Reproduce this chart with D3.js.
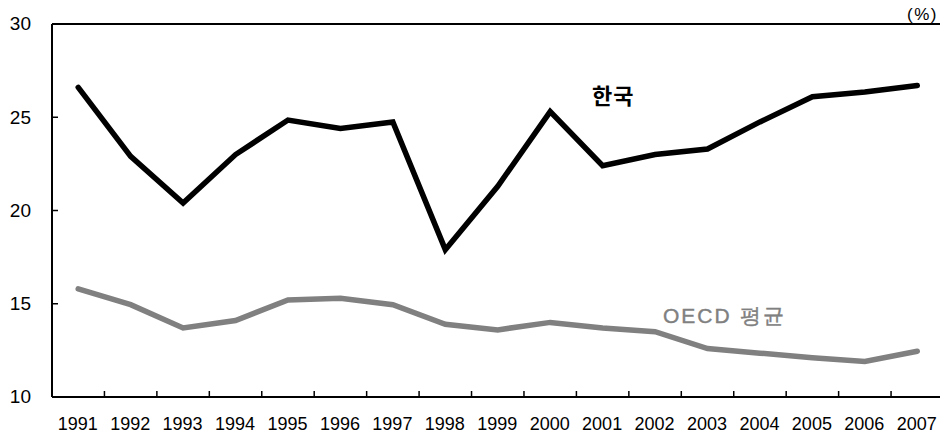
<!DOCTYPE html>
<html>
<head>
<meta charset="utf-8">
<script src="https://cdn.jsdelivr.net/npm/d3@7"></script>
<style>
body{margin:0;background:#fff;}
text{font-family:"Liberation Sans",Arial,sans-serif;}
</style>
</head>
<body>
<svg id="chart" width="940" height="436"></svg>
<script>
var years = ["1991","1992","1993","1994","1995","1996","1997","1998","1999","2000","2001","2002","2003","2004","2005","2006","2007"];
var korea = [26.6,22.9,20.4,23.0,24.85,24.4,24.75,17.9,21.3,25.3,22.4,23.0,23.3,24.75,26.1,26.35,26.7];
var oecd = [15.8,14.95,13.7,14.1,15.2,15.3,14.95,13.9,13.6,14.0,13.7,13.5,12.6,12.35,12.1,11.9,12.45];
var yTicks = [10,15,20,25,30];

function draw(){
  var svg = d3.select("#chart");
  var mLeft = 52, mTop = 24, mBottom = 397, mRight = 943.5;

  var x = d3.scaleBand().domain(years).range([mLeft, mRight]);
  var y = d3.scaleLinear().domain([10,30]).range([mBottom, mTop]);

  // 축
  svg.append("line").attr("x1",mLeft).attr("x2",940).attr("y1",mTop).attr("y2",mTop)
    .attr("stroke","#000").attr("stroke-width",2);
  svg.append("line").attr("x1",mLeft).attr("x2",mLeft).attr("y1",mTop).attr("y2",mBottom)
    .attr("stroke","#000").attr("stroke-width",2);
  svg.append("line").attr("x1",mLeft).attr("x2",940).attr("y1",mBottom).attr("y2",mBottom)
    .attr("stroke","#000").attr("stroke-width",2);

  // y 눈금
  yTicks.forEach(function(t){
    if(t>10 && t<30){
      svg.append("line").attr("x1",mLeft).attr("x2",mLeft+6).attr("y1",y(t)).attr("y2",y(t))
        .attr("stroke","#000").attr("stroke-width",1.5);
    }
    svg.append("text").attr("x",31).attr("y",y(t)).attr("dy","0.33em")
      .attr("text-anchor","end").attr("font-size",19).text(t);
  });

  // x 눈금
  years.forEach(function(d,i){
    if(i>0){
      var xx = x(d);
      svg.append("line").attr("x1",xx).attr("x2",xx).attr("y1",mBottom).attr("y2",mBottom-6)
        .attr("stroke","#000").attr("stroke-width",1.5);
    }
    svg.append("text").attr("x",x(d)+x.bandwidth()/2 - 0.5).attr("y",430)
      .attr("text-anchor","middle").attr("font-size",18).text(d);
  });

  var line = d3.line()
    .x(function(d,i){ return x(years[i]) + x.bandwidth()/2; })
    .y(function(d){ return y(d); });

  svg.append("path").datum(oecd).attr("d",line)
    .attr("fill","none").attr("stroke","#808080").attr("stroke-width",5.5)
    .attr("stroke-linecap","round").attr("stroke-linejoin","miter");
  svg.append("path").datum(korea).attr("d",line)
    .attr("fill","none").attr("stroke","#000").attr("stroke-width",5.5)
    .attr("stroke-linecap","round").attr("stroke-linejoin","miter");

  // 라벨
  svg.append("text").attr("x",592).attr("y",104).attr("font-size",22).attr("font-weight","bold")
    .attr("letter-spacing",1)
    .style("font-family","'Noto Sans CJK KR',sans-serif").text("한국");
  svg.append("text").attr("x",663).attr("y",323).attr("font-size",21).attr("fill","#808080")
    .attr("stroke","#808080").attr("stroke-width",0.4).attr("letter-spacing",2)
    .text("OECD 평균");
  svg.append("text").attr("x",938).attr("y",19.5).attr("text-anchor","end").attr("font-size",17)
    .attr("letter-spacing",1.5).text("(%)");
}
draw();
</script>
</body>
</html>
